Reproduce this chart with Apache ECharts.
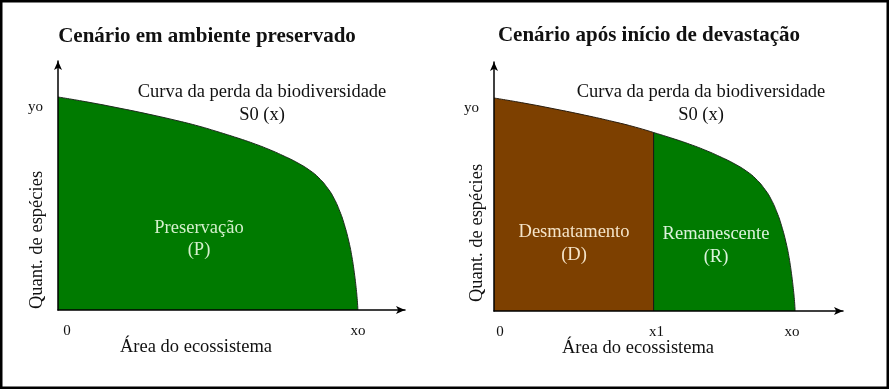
<!DOCTYPE html>
<html><head><meta charset="utf-8">
<script src="https://cdn.jsdelivr.net/npm/echarts@6/dist/echarts.min.js"></script>
<style>html,body{margin:0;padding:0;background:#fff}#c{width:889px;height:389px}</style>
</head><body><div id="c"></div>
<script>
// Curve S0(x): area (0..x0=10) vs species count (0..yo=10)
const curveX = [0, 1, 2, 3, 4, 4.7, 5.3, 6, 6.5, 7, 7.5, 8, 8.4, 8.7, 9, 9.2, 9.4, 9.55, 9.7, 9.8, 9.88, 9.94, 9.98, 10];
const curveY = [10, 9.76, 9.49, 9.2, 8.88, 8.63, 8.38, 8.07, 7.83, 7.56, 7.25, 6.9, 6.55, 6.2, 5.7, 5.25, 4.62, 4.0, 3.2, 2.5, 1.75, 1.05, 0.45, 0];
const x1Value = 5.3;
const leftTickValues = [0, 10];
const leftTickLabels = ['0', 'xo'];
const rightTickValues = [0, 5.3, 10];
const rightTickLabels = ['0', 'x1', 'xo'];
const yTickValues = [10];
const yTickLabels = ['yo'];
const titles = ['Cenário em ambiente preservado', 'Cenário após início de devastação'];
const curveName = ['Curva da perda da biodiversidade', 'S0 (x)'];
const xName = 'Área do ecossistema';
const yName = 'Quant. de espécies';
const areaLabels = { P: ['Preservação', '(P)'], D: ['Desmatamento', '(D)'], R: ['Remanescente', '(R)'] };

const FONT = '"Liberation Serif", "Times New Roman", serif';
const GREEN = '#007a00', BROWN = '#7d4000';

const pts = curveX.map((x, i) => [x, curveY[i]]);
const brownPts = pts.filter(p => p[0] <= x1Value);
const greenPts = pts.filter(p => p[0] >= x1Value);
const yAtX1 = curveY[curveX.indexOf(x1Value)];

function xAxisCfg(gi, values, labels, max, shifts) {
  const rich = {};
  labels.forEach((l, i) => {
    const s = shifts[i];
    rich['l' + i] = { fontFamily: FONT, fontSize: 15, color: '#111',
      padding: s >= 0 ? [0, 0, 0, 2 * s] : [0, -2 * s, 0, 0] };
  });
  return {
    gridIndex: gi, type: 'value', min: 0, max: max, z: 5,
    axisLine: { show: true, onZero: false, lineStyle: { color: '#000', width: 1.5 }, symbol: ['none', 'arrow'], symbolSize: [6, 9] },
    axisTick: { show: false }, splitLine: { show: false },
    axisLabel: { show: true, customValues: values, margin: 14,
      formatter: v => { const i = values.indexOf(v); return i < 0 ? '' : '{l' + i + '|' + labels[i] + '}'; },
      rich: rich }
  };
}
function yAxisCfg(gi, max) {
  return {
    gridIndex: gi, type: 'value', min: 0, max: max, z: 5,
    axisLine: { show: true, onZero: false, lineStyle: { color: '#000', width: 1.5 }, symbol: ['none', 'arrow'], symbolSize: [6, 9] },
    axisTick: { show: false }, splitLine: { show: false },
    axisLabel: { show: true, customValues: yTickValues, margin: 15,
      formatter: v => { const i = yTickValues.indexOf(v); return i < 0 ? '' : '{a|' + yTickLabels[i] + '}'; },
      rich: { a: { fontFamily: FONT, fontSize: 15, color: '#111', padding: [20, 0, 0, 0] } } }
  };
}
function txt(x, y, text, size, opts) {
  opts = opts || {};
  return { type: 'text', x: x, y: y, rotation: opts.rot || 0, z: 10,
    style: { text: text, fontFamily: FONT, fontSize: size, fontWeight: opts.bold ? 'bold' : 'normal',
      fill: opts.color || '#111', textAlign: 'center', textVerticalAlign: 'middle' } };
}

const chart = echarts.init(document.getElementById('c'), null, { renderer: 'canvas' });
chart.setOption({
  animation: false,
  backgroundColor: '#fff',
  grid: [
    { left: 58, top: 61, width: 347, height: 249 },
    { left: 494, top: 62, width: 349, height: 249 }
  ],
  xAxis: [
    xAxisCfg(0, leftTickValues, leftTickLabels, 11.57, [9, 0, -6]),
    xAxisCfg(1, rightTickValues, rightTickLabels, 11.59, [6, 3, -3])
  ],
  yAxis: [yAxisCfg(0, 11.69), yAxisCfg(1, 11.69)],
  series: [
    { type: 'line', xAxisIndex: 0, yAxisIndex: 0, data: pts, showSymbol: false, smooth: 0.5,
      lineStyle: { color: '#1e2a1e', width: 1 }, areaStyle: { color: GREEN, opacity: 1 } },
    { type: 'line', xAxisIndex: 1, yAxisIndex: 1, data: brownPts, showSymbol: false, smooth: 0.5,
      lineStyle: { color: '#2a1e10', width: 1 }, areaStyle: { color: BROWN, opacity: 1 } },
    { type: 'line', xAxisIndex: 1, yAxisIndex: 1, data: greenPts, showSymbol: false, smooth: 0.5,
      lineStyle: { color: '#1e2a1e', width: 1 }, areaStyle: { color: GREEN, opacity: 1 } },
    { type: 'line', xAxisIndex: 1, yAxisIndex: 1, data: [[x1Value, 0], [x1Value, yAtX1]], showSymbol: false,
      lineStyle: { color: '#111', width: 1 }, z: 4 }
  ],
  graphic: [
    { type: 'rect', shape: { x: 1.25, y: 1.25, width: 886.5, height: 386.5 }, style: { fill: 'none', stroke: '#000', lineWidth: 2.5 }, z: 20 },
    txt(207, 37, titles[0], 21, { bold: true }),
    txt(649, 36, titles[1], 21, { bold: true }),
    txt(262, 92, curveName[0], 18.5), txt(262, 115, curveName[1], 18.5),
    txt(701, 92, curveName[0], 18.5), txt(701, 115, curveName[1], 18.5),
    txt(196, 347, xName, 18.5), txt(638, 348, xName, 18.5),
    txt(37, 240, yName, 18.5, { rot: Math.PI / 2 }), txt(477, 233, yName, 18.5, { rot: Math.PI / 2 }),
    txt(199, 228, areaLabels.P[0], 18.5, { color: '#d4f0cc' }), txt(199, 250, areaLabels.P[1], 18.5, { color: '#d4f0cc' }),
    txt(574, 232, areaLabels.D[0], 18.5, { color: '#f5e4c8' }), txt(574, 255, areaLabels.D[1], 18.5, { color: '#f5e4c8' }),
    txt(716, 234, areaLabels.R[0], 18.5, { color: '#dcf3dc' }), txt(716, 257, areaLabels.R[1], 18.5, { color: '#dcf3dc' })
  ]
});
</script></body></html>
